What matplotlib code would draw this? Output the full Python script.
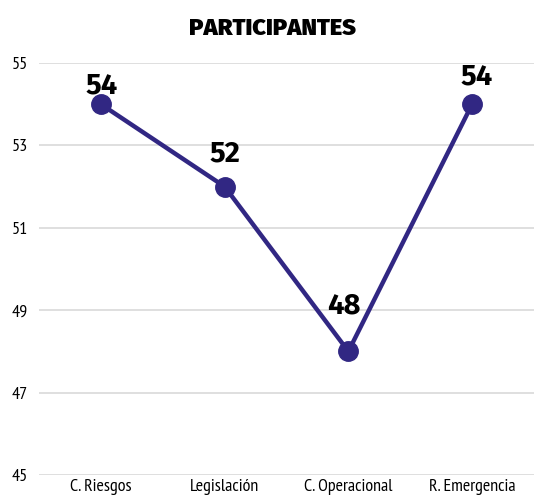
import matplotlib
matplotlib.use("Agg")
import matplotlib.pyplot as plt

categories = ["C. Riesgos", "Legislación", "C. Operacional", "R. Emergencia"]
values = [54, 52, 48, 54]
yticks = [45, 47, 49, 51, 53, 55]
title = "PARTICIPANTES"

# label placement offsets (points) as in the reference
label_dx = [0.7, 0.0, -3.2, 3.6]
label_dy = [7.9, 18.0, 27.4, 14.4]

narrow = ["PT Sans Narrow", "Fira Sans Condensed", "Asap Condensed", "DejaVu Sans"]
bold = ["Fira Sans", "PT Sans", "DejaVu Sans"]

color = "#312783"
fig = plt.figure(figsize=(5.34, 5.0), dpi=100)
ax = fig.add_axes([39/534, 0.05, 1 - 39/534, 0.874 - 0.05])
x = list(range(len(categories)))
ax.plot(x, values, color=color, lw=3.2, marker="o", ms=14, zorder=3)
for xi, v, dx, dy in zip(x, values, label_dx, label_dy):
    ax.annotate(str(v), (xi, v), xytext=(dx, dy), textcoords="offset points",
                ha="center", va="baseline", fontsize=21, fontweight="bold",
                family=bold, color="black", zorder=4)
ax.set_xlim(-0.5, len(categories) - 0.5)
ax.set_ylim(45, 55)
ax.set_yticks(yticks)
ax.set_yticklabels([str(t) for t in yticks], family=narrow, fontsize=13)
ax.set_xticks(x)
ax.set_xticklabels(categories, family=narrow, fontsize=13)
ax.tick_params(length=0)
ax.tick_params(axis="y", pad=8)
ax.tick_params(axis="x", pad=3)
ax.grid(axis="y", color="#d9d9d9", lw=1.2)
ax.set_axisbelow(True)
for s in ax.spines.values():
    s.set_visible(False)
fig.text(273/534, 1 - 35/500, title, ha="center", va="baseline", fontsize=17,
         fontweight="black", family=bold)
fig.savefig("out.png", dpi=100)
